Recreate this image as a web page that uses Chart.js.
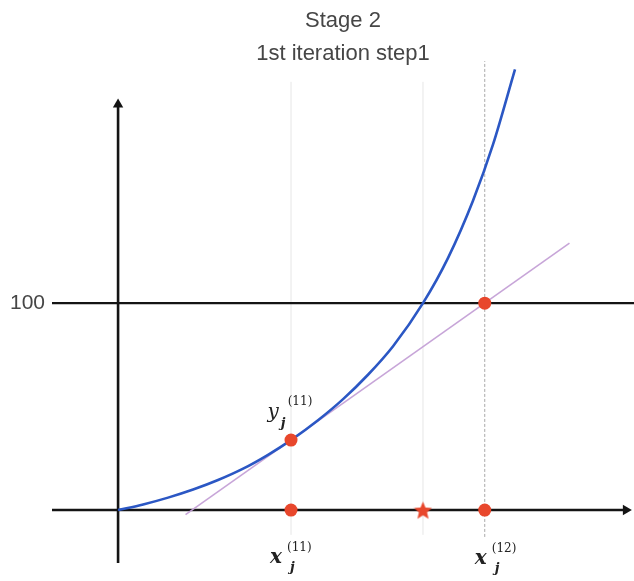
<!DOCTYPE html>
<html>
<head>
<meta charset="utf-8">
<script src="https://cdn.jsdelivr.net/npm/chart.js@4.4.1/dist/chart.umd.min.js"></script>
<style>
  html, body { margin: 0; padding: 0; background: #ffffff; }
  canvas { display: block; }
</style>
</head>
<body>
<canvas id="chart" width="634" height="581"></canvas>
<script>
// Convex growth curve f(x), sampled
const curveX = [0, 0.145, 0.289, 0.434, 0.578, 0.723, 0.867, 1.0, 1.156, 1.301, 1.445, 1.590, 1.763, 1.908, 2.052, 2.168, 2.295];
const curveY = [0, 2.7, 6.0, 9.9, 14.5, 20.0, 26.7, 33.8, 43.4, 53.6, 65.4, 79.2, 100, 121.9, 149.5, 176.7, 213.0];

// Tangent to f at x(11)
const tangentX = [0.39, 2.61];
const tangentY = [-2.2, 129];

// Key values
const targetLevel = 100;
const x11 = 1.0;
const y11 = 33.8;
const x12 = 2.12;
const trueRoot = 1.763;
const yTicks = [100];

// Axis extents
const xMin = -0.382, xMax = 2.983;
const yMin = -34.3, yMax = 214;
const yAxisLow = -25.6, yAxisTip = 196;
const xAxisTip = 2.936;
const guideLow = -12, guideHigh = 207;
const dashLow = -13, dashHigh = 217;

const titleText = 'Stage 2';
const subtitleText = '1st iteration step1';

// Math annotations: base letter, superscript, subscript, anchor point
const mathLabels = [
  { base: 'y', sup: '(11)', sub: 'j', x: x11, y: y11 },
  { base: 'x', sup: '(11)', sub: 'j', x: x11, y: 0 },
  { base: 'x', sup: '(12)', sub: 'j', x: x12, y: 0 }
];

// ---------------------------------------------------------------
const RED = '#e8472c';
const BLUE = '#2b57c4';
const INK = '#141414';

const pts = (xs, ys) => xs.map((x, i) => ({ x: x, y: ys[i] }));

function starImage(size, color) {
  const c = document.createElement('canvas');
  c.width = c.height = size;
  const g = c.getContext('2d');
  const r = size / 2, ri = r * 0.45;
  g.beginPath();
  for (let i = 0; i < 10; i++) {
    const rr = i % 2 ? ri : r;
    const a = -Math.PI / 2 + i * Math.PI / 5;
    g.lineTo(r + rr * Math.cos(a), r + 1 + rr * Math.sin(a));
  }
  g.closePath();
  g.fillStyle = color;
  g.fill();
  return c;
}

// pixel layout of each annotation relative to its anchor
const labelLayout = [
  { dx: -18, dy: -27, supDx: 9, supDy: -11, subDx: 2, subDy: 11 },
  { dx: -15, dy: 48, supDx: 5, supDy: -10, subDx: 8, subDy: 10 },
  { dx: -4, dy: 49, supDx: 5, supDy: -10, subDx: 8, subDy: 10 }
];

const mathLabelPlugin = {
  id: 'mathLabels',
  afterDatasetsDraw(chart) {
    const ctx = chart.ctx;
    const xs = chart.scales.x, ys = chart.scales.y;
    ctx.save();
    ctx.fillStyle = '#222';
    ctx.textBaseline = 'middle';
    mathLabels.forEach((lab, i) => {
      const L = labelLayout[i];
      const cx = xs.getPixelForValue(lab.x) + L.dx;
      const cy = ys.getPixelForValue(lab.y) + L.dy;
      const baseFont = lab.base === 'x'
        ? 'italic bold 20px "DejaVu Serif", "Liberation Serif", serif'
        : 'italic 20px "DejaVu Serif", "Liberation Serif", serif';
      ctx.font = baseFont;
      ctx.textAlign = 'center';
      ctx.fillText(lab.base, cx, cy);
      const right = cx + ctx.measureText(lab.base).width / 2;
      ctx.textAlign = 'left';
      ctx.font = '12px "DejaVu Serif", "Liberation Serif", serif';
      ctx.fillText(lab.sup, right + L.supDx, cy + L.supDy);
      ctx.font = 'italic bold 13px "DejaVu Serif", "Liberation Serif", serif';
      ctx.fillText(lab.sub, right + L.subDx, cy + L.subDy);
    });
    ctx.restore();
  }
};

const lineSet = (data, color, width, order, extra) => Object.assign({
  data: data,
  borderColor: color,
  borderWidth: width,
  pointRadius: 0,
  fill: false,
  tension: 0,
  clip: false,
  order: order
}, extra || {});

const datasets = [
  // markers
  {
    data: [{ x: x11, y: y11 }, { x: x11, y: 0 }, { x: x12, y: 0 }, { x: x12, y: targetLevel }],
    showLine: false,
    pointRadius: 6.5,
    pointBackgroundColor: RED,
    pointBorderWidth: 0,
    order: 0
  },
  {
    data: [{ x: trueRoot, y: 0 }],
    showLine: false,
    pointStyle: starImage(19, RED),
    pointRadius: 9.5,
    order: 0
  },
  // curve
  lineSet(pts(curveX, curveY), BLUE, 2.6, 1, { cubicInterpolationMode: 'monotone' }),
  // tangent
  lineSet(pts(tangentX, tangentY), 'rgba(196,160,214,0.95)', 1.6, 2),
  // axes and target level
  lineSet([{ x: 0, y: yAxisLow }, { x: 0, y: yAxisTip }], INK, 2.6, 3),
  lineSet([{ x: xMin, y: 0 }, { x: xAxisTip, y: 0 }], INK, 2.6, 3),
  lineSet([{ x: xMin, y: targetLevel }, { x: xMax, y: targetLevel }], INK, 2.4, 3),
  {
    data: [{ x: 0, y: yAxisTip }],
    showLine: false, pointStyle: 'triangle', pointRadius: 6,
    pointBackgroundColor: INK, pointBorderWidth: 0, clip: false, order: 3
  },
  {
    data: [{ x: xAxisTip, y: 0 }],
    showLine: false, pointStyle: 'triangle', pointRotation: 90, pointRadius: 6,
    pointBackgroundColor: INK, pointBorderWidth: 0, clip: false, order: 3
  },
  // guides
  lineSet([{ x: x11, y: guideLow }, { x: x11, y: guideHigh }], '#e6e6e6', 1, 4),
  lineSet([{ x: trueRoot, y: guideLow }, { x: trueRoot, y: guideHigh }], '#e6e6e6', 1, 4),
  lineSet([{ x: x12, y: dashLow }, { x: x12, y: dashHigh }], '#a9a9a9', 1, 4, { borderDash: [3, 2] })
];

new Chart(document.getElementById('chart'), {
  type: 'line',
  data: { datasets: datasets },
  plugins: [mathLabelPlugin],
  options: {
    responsive: false,
    animation: false,
    devicePixelRatio: 1,
    layout: { padding: 0, autoPadding: false },
    plugins: {
      legend: { display: false },
      tooltip: { enabled: false },
      title: {
        display: true,
        text: titleText,
        fullSize: false,
        color: '#464646',
        font: { family: '"Liberation Sans", Arial, sans-serif', size: 22, weight: 'normal' },
        padding: { top: 8, bottom: 0 }
      },
      subtitle: {
        display: true,
        text: subtitleText,
        fullSize: false,
        color: '#464646',
        font: { family: '"Liberation Sans", Arial, sans-serif', size: 22, weight: 'normal' },
        padding: { top: 6.5, bottom: 0 }
      }
    },
    scales: {
      x: { type: 'linear', min: xMin, max: xMax, display: false },
      y: {
        type: 'linear',
        min: yMin,
        max: yMax,
        afterBuildTicks: s => { s.ticks = yTicks.map(v => ({ value: v })); },
        afterFit: s => { s.width = 52; s.paddingTop = 0; s.paddingBottom = 0; },
        grid: { display: false, drawTicks: false },
        border: { display: false },
        ticks: {
          padding: 7,
          color: '#464646',
          font: { family: '"Liberation Sans", Arial, sans-serif', size: 21 }
        }
      }
    }
  }
});
</script>
</body>
</html>
